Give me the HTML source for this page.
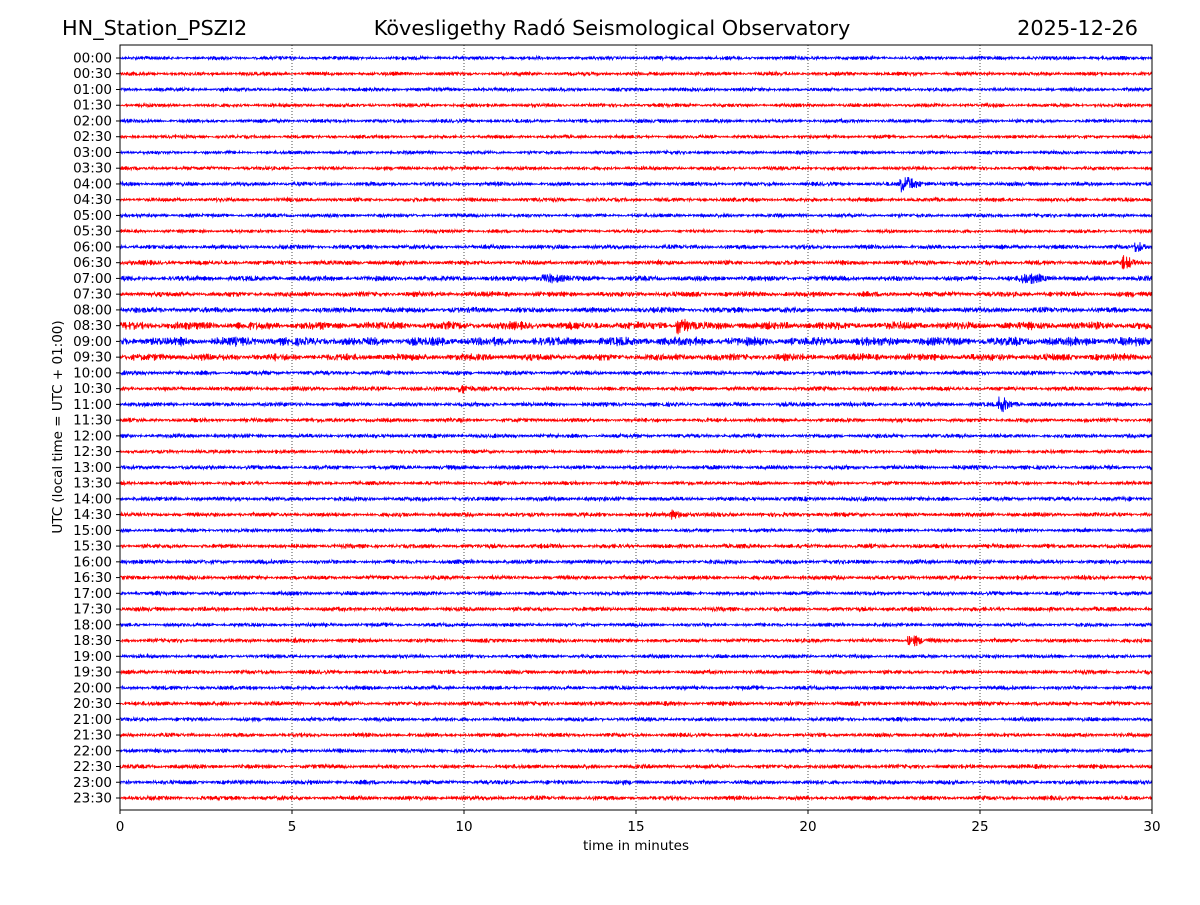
<!DOCTYPE html>
<html><head><meta charset="utf-8"><style>
body{margin:0;background:#fff}
svg text{font-family:"DejaVu Sans","Liberation Sans",sans-serif;fill:#000}
</style></head><body>
<svg id="chart" width="1200" height="900" viewBox="0 0 1200 900" xmlns="http://www.w3.org/2000/svg">
<rect width="1200" height="900" fill="#fff"/>
<text x="62" y="35" font-size="20.8">HN_Station_PSZI2</text>
<text x="612" y="35" font-size="20.8" text-anchor="middle">Kövesligethy Radó Seismological Observatory</text>
<text x="1138" y="35" font-size="20.8" text-anchor="end">2025-12-26</text>
<g id="grid"></g>
<g id="traces"></g>
<rect x="120" y="45" width="1032" height="765" fill="none" stroke="#000" stroke-width="1"/>
<g id="xticks"></g>
<g id="yticks"></g>
<text x="636" y="850" font-size="13.5" text-anchor="middle">time in minutes</text>
<text transform="translate(62,427) rotate(-90)" font-size="13.5" text-anchor="middle">UTC (local time = UTC + 01:00)</text>
</svg>
<script>
const hourLabels=[];for(let h=0;h<24;h++){const s=String(h).padStart(2,'0');hourLabels.push(s+':00');hourLabels.push(s+':30');}
const xTicks=[0,5,10,15,20,25,30];
// background noise amplitude per trace (px)
const noiseAmp=[1.2,1.2,1.2,1.2,1.2,1.1,1.1,1.2,1.3,1.3,1.2,1.1,1.4,1.5,1.7,1.7,1.8,2.6,2.9,2.3,1.4,1.4,1.4,1.3,1.3,1.2,1.4,1.2,1.4,1.4,1.2,1.4,1.4,1.4,1.3,1.4,1.2,1.3,1.2,1.3,1.3,1.4,1.3,1.3,1.3,1.4,1.4,1.4];
// events: [trace index, minute, amplitude px, duration min]
const evTrace=[8,14,14,17,21,22,29,37,12,13];
const evMin=[22.9,12.5,26.5,16.3,10.0,25.7,16.2,23.1,29.6,29.3];
const evAmp=[7,3,3,6,3.5,6,3,4,4,4];
const evDur=[0.8,1.0,1.2,0.5,0.6,0.6,0.8,0.7,0.4,0.6];
const NS='http://www.w3.org/2000/svg';
const X0=120,X1=1152,Y0=58,DY=(798-58)/47;
const xs=m=>X0+(X1-X0)*m/30, ys=i=>Y0+i*DY;
const grid=document.getElementById('grid'),xt=document.getElementById('xticks'),yt=document.getElementById('yticks'),tr=document.getElementById('traces');
xTicks.forEach(t=>{const x=xs(t);
 if(t>0&&t<30){const l=document.createElementNS(NS,'line');
 
 
 l.setAttribute('x1',x);l.setAttribute('x2',x);l.setAttribute('y1',45);l.setAttribute('y2',810);l.setAttribute('stroke','#000');l.setAttribute('stroke-width','0.7');l.setAttribute('stroke-dasharray','1,2');grid.appendChild(l);}
 const k=document.createElementNS(NS,'line');
 
 
 k.setAttribute('x1',x);k.setAttribute('x2',x);k.setAttribute('y1',810);k.setAttribute('y2',814);k.setAttribute('stroke','#000');xt.appendChild(k);
 const tx=document.createElementNS(NS,'text');
 
 
 tx.setAttribute('x',x);tx.setAttribute('y',831);tx.setAttribute('font-size','13.5');tx.setAttribute('text-anchor','middle');tx.textContent=t;xt.appendChild(tx);});
let seed=12345;const rnd=()=>{seed=(seed*1103515245+12345)%2147483648;return seed/2147483648-0.5;};
hourLabels.forEach((lab,i)=>{const y=ys(i);
 const k=document.createElementNS(NS,'line');
 
 
 k.setAttribute('x1',116);k.setAttribute('x2',120);k.setAttribute('y1',y);k.setAttribute('y2',y);k.setAttribute('stroke','#000');yt.appendChild(k);
 const tx=document.createElementNS(NS,'text');
 
 
 tx.setAttribute('x',112);tx.setAttribute('y',y+4.5);tx.setAttribute('font-size','13.5');tx.setAttribute('text-anchor','end');tx.textContent=lab;yt.appendChild(tx);
 const N=2400;let d='';let prev=0;
 for(let j=0;j<=N;j++){const m=30*j/N;let a=noiseAmp[i]*(0.6+0.8*Math.abs(Math.sin(j*0.021+i)));
  for(let e=0;e<evTrace.length;e++){if(evTrace[e]===i){const dd=(m-evMin[e])/evDur[e];if(dd>-0.3&&dd<1)a+=evAmp[e]*Math.exp(-Math.max(dd,0)*3);}}
  let v=-0.3*prev+rnd()*2*a;prev=v;
  d+=(j?'L':'M')+xs(m).toFixed(1)+' '+(y+v).toFixed(1);}
 const p=document.createElementNS(NS,'path');
 
 
 p.setAttribute('d',d);p.setAttribute('fill','none');p.setAttribute('stroke',i%2?'#ff0000':'#0000ff');p.setAttribute('stroke-width','0.9');tr.appendChild(p);});
</script>
</body></html>
